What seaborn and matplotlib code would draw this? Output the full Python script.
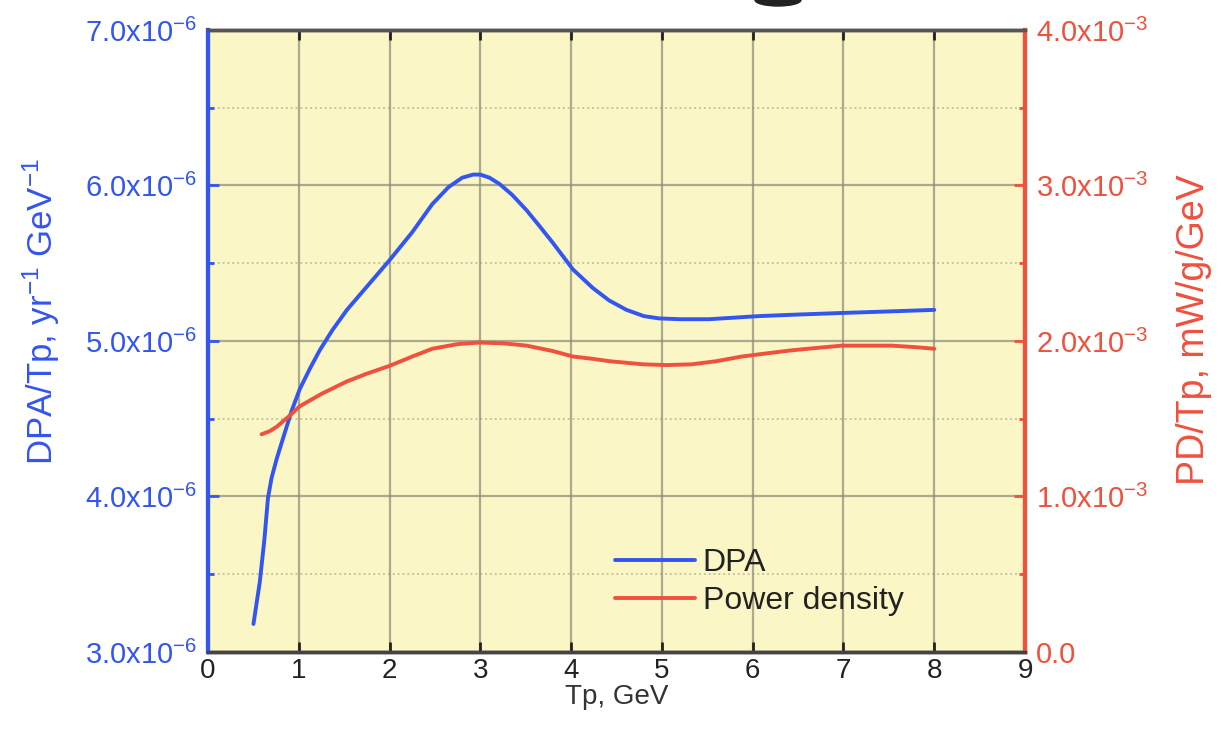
import numpy as np
import pandas as pd
import matplotlib
matplotlib.use("Agg")
import matplotlib.pyplot as plt
import seaborn as sns
from matplotlib.ticker import FixedLocator
from matplotlib.patches import Ellipse

# values
tp_dpa = [0.50, 0.57, 0.62, 0.66, 0.70, 0.76, 0.84, 0.92, 1.01, 1.12, 1.23, 1.37, 1.53, 1.75, 2.00,
          2.25, 2.47, 2.65, 2.80, 2.92, 3.00, 3.10, 3.21, 3.35, 3.51, 3.65, 3.80, 4.02, 4.24, 4.42,
          4.61, 4.80, 4.97, 5.20, 5.52, 6.07, 6.50, 6.98, 7.50, 8.00]
dpa = [3.18, 3.45, 3.72, 3.99, 4.12, 4.25, 4.40, 4.55, 4.69, 4.82, 4.94, 5.07, 5.20, 5.35, 5.52,
       5.70, 5.88, 5.99, 6.05, 6.07, 6.07, 6.05, 6.01, 5.94, 5.84, 5.74, 5.63, 5.46, 5.34, 5.26,
       5.20, 5.16, 5.145, 5.14, 5.14, 5.16, 5.17, 5.18, 5.19, 5.20]

tp_pd = [0.59, 0.68, 0.76, 0.90, 1.01, 1.25, 1.53, 1.75, 2.00, 2.25, 2.47, 2.75, 2.99, 3.25,
         3.51, 3.80, 4.02, 4.24, 4.42, 4.79, 5.05, 5.33, 5.60, 5.88, 6.15, 6.43, 6.70, 6.98,
         7.25, 7.53, 7.80, 8.00]
pdens = [1.40, 1.42, 1.45, 1.52, 1.58, 1.66, 1.74, 1.79, 1.84, 1.90, 1.95, 1.98, 1.99, 1.985,
         1.97, 1.935, 1.90, 1.885, 1.87, 1.85, 1.845, 1.85, 1.87, 1.90, 1.92, 1.94, 1.955, 1.97,
         1.97, 1.97, 1.96, 1.95]

dpa_df = pd.DataFrame({"Tp": tp_dpa, "DPA": np.array(dpa) * 1e-6})
pd_df = pd.DataFrame({"Tp": tp_pd, "PD": np.array(pdens) * 1e-3})

left_ticks = [3e-6, 4e-6, 5e-6, 6e-6, 7e-6]
left_labels = ["3.0x10$^{-6}$", "4.0x10$^{-6}$", "5.0x10$^{-6}$", "6.0x10$^{-6}$", "7.0x10$^{-6}$"]
right_ticks = [0, 1e-3, 2e-3, 3e-3, 4e-3]
right_labels = ["0.0", "1.0x10$^{-3}$", "2.0x10$^{-3}$", "3.0x10$^{-3}$", "4.0x10$^{-3}$"]

blue = "#3355f0"
red = "#f0503c"
gridc = "#8a8a78"

sns.set_style("ticks")
plt.rcParams['font.family'] = ['Liberation Sans', 'DejaVu Sans']
plt.rcParams['mathtext.fontset'] = 'custom'
plt.rcParams['mathtext.rm'] = 'Liberation Sans'
plt.rcParams['mathtext.it'] = 'Liberation Sans'
plt.rcParams['mathtext.default'] = 'regular'

fig = plt.figure(figsize=(12.21, 7.44), dpi=100)
ax = fig.add_axes([0.1704, 0.1237, 0.6691, 0.836])
ax.set_facecolor("#faf6c6")

sns.lineplot(data=dpa_df, x="Tp", y="DPA", ax=ax, color=blue, lw=2.8, label="DPA", legend=False)
ax2 = ax.twinx()
sns.lineplot(data=pd_df, x="Tp", y="PD", ax=ax2, color=red, lw=2.8, label="Power density", legend=False)

ax.set_xlim(0, 9)
ax.set_ylim(3e-6, 7e-6)
ax2.set_ylim(0, 4e-3)
ax.set_xticks(range(10))
ax.set_yticks(left_ticks)
ax.set_yticklabels(left_labels)
ax.yaxis.set_minor_locator(FixedLocator([3.5e-6, 4.5e-6, 5.5e-6, 6.5e-6]))
ax2.set_yticks(right_ticks)
ax2.set_yticklabels(right_labels)
ax2.yaxis.set_minor_locator(FixedLocator([0.5e-3, 1.5e-3, 2.5e-3, 3.5e-3]))

ax.grid(True, which="major", color=gridc, lw=1.6, alpha=0.7)
ax.grid(True, which="minor", axis="y", color=gridc, lw=1.4, ls=(0, (1, 1.5)), alpha=0.45)

ax.tick_params(axis="x", which="major", direction="in", length=7, width=2, top=True,
               labelsize=20, colors="#222222", pad=4)
ax.tick_params(axis="y", which="major", direction="in", length=8, width=2,
               labelsize=21, colors=blue, pad=8)
ax.tick_params(axis="y", which="minor", direction="in", length=4, width=2, colors=blue)
ax2.tick_params(axis="y", which="major", direction="in", length=8, width=2,
                labelsize=21, colors=red, pad=8)
ax2.tick_params(axis="y", which="minor", direction="in", length=4, width=2, colors=red)

for a in (ax, ax2):
    a.spines["top"].set_color("#555555")
    a.spines["bottom"].set_color("#444444")
    a.spines["top"].set_linewidth(2.5)
    a.spines["bottom"].set_linewidth(2.5)
    a.spines["left"].set_color(blue)
    a.spines["right"].set_color(red)
    a.spines["left"].set_linewidth(3)
    a.spines["right"].set_linewidth(3)

ax.set_xlabel("Tp, GeV", fontsize=20, color="#333333", labelpad=0)
ax.set_ylabel("DPA/Tp, yr$^{-1}$ GeV$^{-1}$", fontsize=25, color=blue)
ax.yaxis.set_label_coords(-0.179, 0.547)
ax2.set_ylabel("PD/Tp, mW/g/GeV", fontsize=27, color=red)
ax2.yaxis.set_label_coords(1.185, 0.518)

h1, l1 = ax.get_legend_handles_labels()
h2, l2 = ax2.get_legend_handles_labels()
ax.legend(h1 + h2, l1 + l2, loc="lower left", bbox_to_anchor=(0.498, 0.058), frameon=False,
          fontsize=23, handlelength=2.5, handletextpad=0.25, labelspacing=0.25,
          borderpad=0, borderaxespad=0, labelcolor="#222222")

# dark blob cut off at the top edge of the reference
fig.patches.append(Ellipse((778 / 1221, 1.0), 46 / 1221, 12 / 744, transform=fig.transFigure,
                           color="#222222", zorder=5))

fig.savefig("out.png", dpi=100)
